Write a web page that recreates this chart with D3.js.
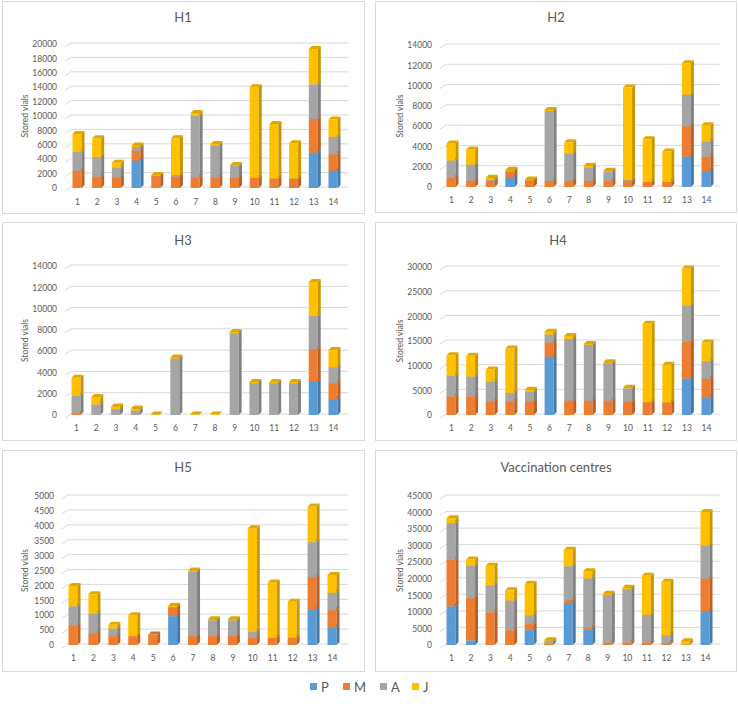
<!DOCTYPE html>
<html><head><meta charset="utf-8">
<script src="https://cdn.jsdelivr.net/npm/d3@7"></script>
<style>
html,body{margin:0;padding:0;background:#fff;}
svg text{font-family:Lato,"Noto Sans",sans-serif;fill:#595959;}
</style></head>
<body><svg id="c" width="738" height="716"></svg>
<script>
const categories = ["1","2","3","4","5","6","7","8","9","10","11","12","13","14"];
const seriesNames = ["P","M","A","J"];
const seriesColors = ["#5B9BD5","#ED7D31","#A5A5A5","#FFC000"];
const panelTitles = ["H1","H2","H3","H4","H5","Vaccination centres"];
const yMaxes = [20000,14000,14000,30000,5000,45000];
const yTickSteps = [2000,2000,2000,5000,500,5000];

const H1_P = [0,0,0,3800,0,0,0,0,0,0,0,0,4900,2400];
const H1_M = [2400,1600,1500,1400,1700,1600,1500,1500,1500,1400,1300,1300,4700,2300];
const H1_A = [2600,2700,1300,500,0,200,8500,4400,1600,0,0,0,4800,2400];
const H1_J = [2500,2600,700,200,100,5100,400,200,100,12600,7600,4900,4900,2400];

const H2_P = [0,0,0,900,0,0,0,0,0,0,0,0,3000,1500];
const H2_M = [900,600,600,600,650,600,600,600,600,600,500,500,3000,1500];
const H2_A = [1700,1600,100,100,0,6900,2700,1300,900,100,0,0,3100,1500];
const H2_J = [1700,1500,200,100,100,100,1100,200,100,9100,4200,3000,3100,1600];

const H3_P = [0,0,0,0,0,0,0,0,0,0,0,0,3100,1500];
const H3_M = [100,0,0,0,0,0,0,0,0,0,0,0,3100,1500];
const H3_A = [1700,1000,550,400,0,5300,0,0,7700,3000,3000,3000,3100,1500];
const H3_J = [1700,700,250,200,50,100,50,50,100,100,100,100,3200,1600];

const H4_P = [0,0,0,0,0,11800,0,0,0,0,0,0,7400,3600];
const H4_M = [3800,3800,2800,2800,2800,2900,2900,2900,2900,2700,2600,2600,7500,3700];
const H4_A = [4100,4000,4000,1700,1900,1600,12500,11300,7600,2700,0,0,7300,3600];
const H4_J = [4200,4200,2400,9000,400,600,600,200,200,100,15900,7600,7500,3800];

const H5_P = [0,0,0,0,0,970,0,0,0,0,0,0,1180,580];
const H5_M = [650,400,300,300,350,300,300,300,300,250,250,250,1100,590];
const H5_A = [650,650,250,0,0,0,2150,530,530,200,0,0,1170,580];
const H5_J = [680,650,130,700,0,50,50,30,30,3470,1850,1200,1200,600];

const VC_P = [11700,1400,0,0,4500,0,12700,4700,0,0,0,0,0,10000];
const VC_M = [14100,13000,9900,4500,1800,300,800,500,700,800,800,600,200,10000];
const VC_A = [11000,9600,8100,8900,2700,700,10300,14900,14400,16100,8300,2400,0,10000];
const VC_J = [1500,1800,5900,3100,9500,400,5000,2200,400,400,11800,16100,900,10200];

const panelData = [
  [H1_P,H1_M,H1_A,H1_J],[H2_P,H2_M,H2_A,H2_J],[H3_P,H3_M,H3_A,H3_J],
  [H4_P,H4_M,H4_A,H4_J],[H5_P,H5_M,H5_A,H5_J],[VC_P,VC_M,VC_A,VC_J]
];

// layout
const layouts = [
  {bx:2,by:1,bw:362,bh:212,tx:183,ty:17,y0:188,y1:44,gx0:65,gx1:348,b0:77,b1:333,xl:202,ylx:25},
  {bx:375,by:1,bw:361,bh:211,tx:556,ty:17,y0:187,y1:45,gx0:440,gx1:720,b0:451,b1:706,xl:200,ylx:400},
  {bx:2,by:222,bw:362,bh:218,tx:183,ty:240,y0:415,y1:266,gx0:65,gx1:348,b0:76,b1:333,xl:428,ylx:25},
  {bx:375,by:222,bw:361,bh:218,tx:558,ty:240,y0:415,y1:267,gx0:440,gx1:720,b0:451,b1:706,xl:428,ylx:400},
  {bx:2,by:450,bw:362,bh:221,tx:183,ty:467,y0:645,y1:496,gx0:62,gx1:348,b0:73,b1:332,xl:658,ylx:25},
  {bx:375,by:450,bw:361,bh:221,tx:556,ty:467,y0:645,y1:496,gx0:440,gx1:720,b0:451,b1:705,xl:658,ylx:400}
];

const svg = d3.select("#c");
const BW = 9, DX = 3, DY = 3;

panelTitles.forEach((title,pi)=>{
  const L = layouts[pi];
  const g = svg.append("g");
  g.append("rect").attr("x",L.bx+0.5).attr("y",L.by+0.5).attr("width",L.bw).attr("height",L.bh)
    .attr("fill","#fff").attr("stroke","#d9d9d9").attr("stroke-width",1);
  g.append("text").attr("x",L.tx).attr("y",L.ty).attr("text-anchor","middle")
    .attr("dominant-baseline","central").style("font-size","13px").text(title);

  const y = d3.scaleLinear().domain([0,yMaxes[pi]]).range([L.y0,L.y1]);
  const x = d3.scalePoint().domain(categories).range([L.b0,L.b1]);

  const ticks = d3.range(0,yMaxes[pi]+1,yTickSteps[pi]);
  const ax = g.append("g").attr("transform",`translate(${L.gx0},0)`)
    .call(d3.axisLeft(y).tickValues(ticks).tickFormat(d3.format("d"))
      .tickSize(0).tickPadding(8));
  ax.select(".domain").remove();
  ax.selectAll(".tick line").remove();
  ax.selectAll(".tick").append("path")
    .attr("d",`M0,2.5L6,-1.5H${L.gx1-L.gx0}`)
    .attr("fill","none").attr("stroke","#d9d9d9").attr("stroke-width",1);
  ax.selectAll(".tick text").style("font-size","8.5px").style("font-family","Lato,sans-serif").attr("fill","#595959");

  const xa = g.append("g").attr("transform",`translate(0,${L.xl})`)
    .call(d3.axisBottom(x).tickSize(0).tickPadding(0));
  xa.select(".domain").remove();
  xa.selectAll(".tick text").attr("dy","0.32em").style("font-size","8.5px")
    .style("font-family","Lato,sans-serif").attr("fill","#595959");

  g.append("text").attr("transform",`translate(${L.ylx},${(L.y0+L.y1)/2}) rotate(-90)`)
    .attr("text-anchor","middle").attr("dominant-baseline","central")
    .style("font-size","8.5px").text("Stored vials");

  const data = panelData[pi];
  categories.forEach((c,ci)=>{
    let acc = 0;
    const cx = x(c);
    const x0 = cx - BW/2, x1 = cx + BW/2;
    data.forEach((arr,si)=>{
      const v = arr[ci];
      if(!v) return;
      const yb = y(acc), yt = y(acc+v);
      acc += v;
      const col = d3.color(seriesColors[si]);
      g.append("rect").attr("x",x0).attr("y",yt).attr("width",BW).attr("height",yb-yt).attr("fill",col.formatHex());
      g.append("path").attr("d",`M${x1},${yt}L${x1+DX},${yt-DY}L${x1+DX},${yb-DY}L${x1},${yb}Z`)
        .attr("fill",col.darker(0.7).formatHex());
      g.append("path").attr("d",`M${x0},${yt}L${x0+DX},${yt-DY}L${x1+DX},${yt-DY}L${x1},${yt}Z`)
        .attr("fill",col.darker(0.35).formatHex());
    });
  });
});

// legend
const legX = [310,343,380,412];
const leg = svg.append("g");
seriesNames.forEach((s,i)=>{
  leg.append("rect").attr("x",legX[i]).attr("y",683).attr("width",7).attr("height",7).attr("fill",seriesColors[i]);
  leg.append("text").attr("x",legX[i]+11).attr("y",687).attr("dominant-baseline","central")
    .style("font-size","13px").text(s);
});
</script></body></html>
